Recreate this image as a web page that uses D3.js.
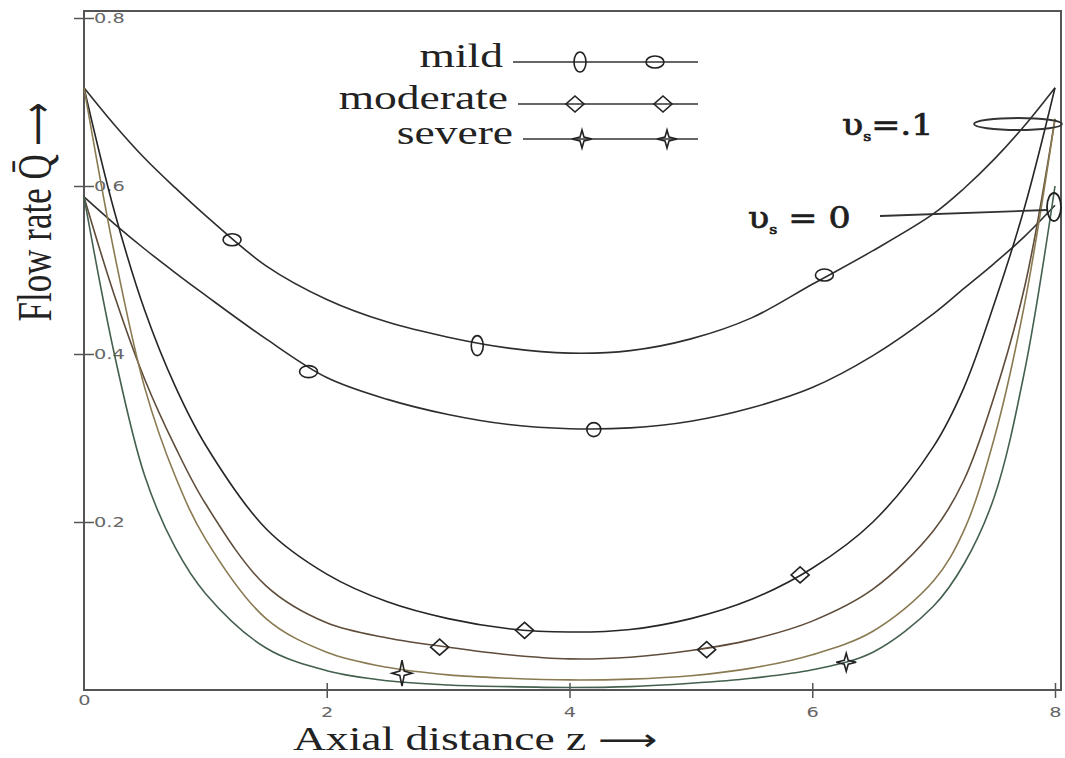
<!DOCTYPE html>
<html>
<head>
<meta charset="utf-8">
<script src="https://cdn.jsdelivr.net/npm/d3@7"></script>
<style>
  body { margin: 0; background: #fff; }
  svg { display: block; }
</style>
</head>
<body>
<svg id="chart" width="1065" height="758"></svg>
<script>
// axial positions shared by all curves
const zVals = [0, 0.25, 0.5, 0.75, 1, 1.5, 2, 2.5, 3, 3.5, 4, 4.5, 5, 5.5, 6, 6.5, 7, 7.25, 7.5, 7.75, 8]

// flow rate
const mildSlip = [0.717, 0.673, 0.633, 0.598, 0.565, 0.505, 0.465, 0.438, 0.42, 0.407, 0.401, 0.404, 0.418, 0.443, 0.483, 0.523, 0.567, 0.597, 0.632, 0.672, 0.717]
const mildNoSlip = [0.587, 0.555, 0.525, 0.497, 0.47, 0.418, 0.372, 0.346, 0.328, 0.316, 0.311, 0.312, 0.32, 0.336, 0.36, 0.398, 0.448, 0.478, 0.508, 0.54, 0.577]
const moderateSlip = [0.717, 0.57, 0.452, 0.362, 0.292, 0.192, 0.138, 0.105, 0.085, 0.073, 0.069, 0.072, 0.085, 0.108, 0.145, 0.2, 0.29, 0.36, 0.46, 0.575, 0.717]
const moderateNoSlip = [0.587, 0.47, 0.37, 0.29, 0.222, 0.124, 0.08, 0.062, 0.051, 0.042, 0.037, 0.039, 0.047, 0.06, 0.082, 0.12, 0.19, 0.25, 0.35, 0.48, 0.68]
const severeSlip = [0.717, 0.52, 0.36, 0.255, 0.18, 0.085, 0.045, 0.027, 0.018, 0.014, 0.012, 0.013, 0.017, 0.026, 0.042, 0.07, 0.13, 0.19, 0.3, 0.46, 0.68]
const severeNoSlip = [0.587, 0.4, 0.255, 0.17, 0.115, 0.05, 0.023, 0.011, 0.006, 0.004, 0.003, 0.004, 0.008, 0.014, 0.024, 0.045, 0.1, 0.15, 0.23, 0.38, 0.6]

const seriesList = [mildSlip, mildNoSlip, moderateSlip, moderateNoSlip, severeSlip, severeNoSlip]
const seriesColors = ['#2e2e2e', '#2e2e2e', '#262626', '#5f4c3a', '#8a7a52', '#44604f']

// markers sitting on the curves
const markerZ = [1.22, 3.24, 6.1, 1.85, 4.2, 3.63, 5.9, 2.93, 5.13, 2.62, 6.28]
const markerQ = [0.536, 0.41, 0.494, 0.379, 0.31, 0.071, 0.137, 0.051, 0.048, 0.02, 0.033]
const markerKind = ['hEllipse', 'vEllipse', 'hEllipse', 'hEllipse', 'round', 'diamond', 'diamond', 'diamond', 'diamond', 'bigStar', 'star']

const legendLabels = ['mild', 'moderate', 'severe']
const legendKinds = [['vEllipse', 'hEllipse'], ['diamond', 'diamond'], ['star', 'star']]

const xTickValues = [0, 2, 4, 6, 8]
const yTickValues = [0.2, 0.4, 0.6, 0.8]

const SX = 1.38 // the picture is stretched sideways
const svg = d3.select('#chart')

const x = d3.scaleLinear().domain([0, 8]).range([84, 1055])
const y = d3.scaleLinear().domain([0, 0.8]).range([690, 18])

// frame
svg.append('rect')
  .attr('x', 84).attr('y', 11)
  .attr('width', 1061 - 84).attr('height', 690 - 11)
  .attr('fill', 'none').attr('stroke', '#555').attr('stroke-width', 2)

// y axis, ticks crossing the frame, labels inside
let yAxis = svg.append('g')
  .attr('transform', 'translate(84,0)')
  .call(d3.axisRight(y).tickValues(yTickValues).tickSize(10).tickPadding(2).tickFormat(d3.format('.1f')))
yAxis.select('.domain').remove()
yAxis.selectAll('line').attr('x1', -10).attr('stroke', '#555').attr('stroke-width', 1.5)
yAxis.selectAll('text')
  .attr('x', 0).attr('dy', '0.35em')
  .attr('transform', `translate(10,0) scale(${SX},1)`)
  .attr('fill', '#666').style('font', '14px "DejaVu Sans"')

let xAxis = svg.append('g')
  .attr('transform', 'translate(0,690)')
  .call(d3.axisBottom(x).tickValues(xTickValues).tickSize(8).tickPadding(9).tickFormat(d3.format('d')))
xAxis.select('.domain').remove()
xAxis.selectAll('line').attr('y1', -7).attr('stroke', '#555').attr('stroke-width', 1.5)
xAxis.selectAll('.tick').filter(d => d === 0).select('line').remove()
xAxis.selectAll('.tick').filter(d => d === 0).select('text').attr('y', 5)
xAxis.selectAll('text')
  .attr('x', 0)
  .attr('transform', `scale(${SX},1)`)
  .attr('fill', '#666').style('font', '14px "DejaVu Sans"')

// axis titles
let xTitle = svg.append('text')
  .attr('transform', `translate(293,750) scale(${SX},1)`)
  .style('font', '33px "Liberation Serif"').attr('fill', '#222')
xTitle.append('tspan').text('Axial distance z ')
xTitle.append('tspan').style('font', '30px "DejaVu Sans"').text('\u27f6')

let yTitle = svg.append('text')
  .attr('transform', `translate(51,212) scale(${SX},1) rotate(-90)`)
  .attr('text-anchor', 'middle')
  .style('font', '35px "Liberation Serif"').attr('fill', '#222')
yTitle.append('tspan').text('Flow rate Q\u0304 ')
yTitle.append('tspan').style('font', '30px "DejaVu Sans"').text('\u27f6')

// curves
let line = d3.line()
  .x((d, i) => x(zVals[i]))
  .y(d => y(d))
  .curve(d3.curveCatmullRom.alpha(0.5))

svg.append('g')
  .selectAll('path')
  .data(seriesList)
  .enter()
  .append('path')
  .attr('d', d => line(d))
  .attr('fill', 'none')
  .attr('stroke', (d, i) => seriesColors[i])
  .attr('stroke-width', 1.6)

function starPath(w, h) {
  let k = Math.min(w, h) * 0.22
  return `M0,${-h}L${k},${-k}L${w},0L${k},${k}L0,${h}L${-k},${k}L${-w},0L${-k},${-k}Z`
}

function drawMarker(g, kind) {
  if (kind === 'hEllipse') g.append('ellipse').attr('rx', 9).attr('ry', 6)
  else if (kind === 'vEllipse') g.append('ellipse').attr('rx', 6).attr('ry', 10)
  else if (kind === 'round') g.append('ellipse').attr('rx', 7).attr('ry', 7)
  else if (kind === 'diamond') g.append('path').attr('d', 'M0,-8L9,0L0,8L-9,0Z')
  else if (kind === 'star') g.append('path').attr('d', starPath(10, 9))
  else if (kind === 'bigStar') g.append('path').attr('d', starPath(10, 13))
  g.selectAll('ellipse,path')
    .attr('fill', 'none').attr('stroke', '#222').attr('stroke-width', 1.6)
}

markerZ.forEach((z, i) => {
  let g = svg.append('g').attr('transform', `translate(${x(z)},${y(markerQ[i])})`)
  drawMarker(g, markerKind[i])
})

// legend
let legendY = [62, 104, 139]
let legendMarkerX = [[580, 655], [575, 663], [582, 667]]
let legendLineStart = [513, 518, 523]
legendLabels.forEach((label, i) => {
  svg.append('text')
    .attr('transform', `translate(${legendLineStart[i] - 10},${legendY[i] + 5}) scale(${SX},1)`)
    .attr('text-anchor', 'end')
    .style('font', '33px "Liberation Serif"').attr('fill', '#222')
    .text(label)
  svg.append('line')
    .attr('x1', legendLineStart[i]).attr('x2', 698)
    .attr('y1', legendY[i]).attr('y2', legendY[i])
    .attr('stroke', '#333').attr('stroke-width', 1.6)
  legendKinds[i].forEach((kind, j) => {
    let g = svg.append('g').attr('transform', `translate(${legendMarkerX[i][j]},${legendY[i]})`)
    drawMarker(g, kind)
  })
})

// slip callouts
function slipLabel(tx, ty, rest) {
  let t = svg.append('text')
    .attr('transform', `translate(${tx},${ty}) scale(1.2,1)`)
    .style('font', '29px "DejaVu Serif"').attr('fill', '#1e1e1e')
    .attr('stroke', '#1e1e1e').attr('stroke-width', 0.7)
  t.append('tspan').text('\u03c5')
  t.append('tspan').attr('dy', 6).style('font-size', '13px').text('s')
  t.append('tspan').attr('dy', -6).text(rest)
}
slipLabel(842, 135, '=.1')
svg.append('ellipse')
  .attr('cx', 1018).attr('cy', 124).attr('rx', 44).attr('ry', 6)
  .attr('fill', 'none').attr('stroke', '#333').attr('stroke-width', 1.8)

slipLabel(748, 228, ' = 0')
svg.append('line')
  .attr('x1', 880).attr('y1', 216).attr('x2', 1047).attr('y2', 210)
  .attr('stroke', '#333').attr('stroke-width', 1.8)
svg.append('ellipse')
  .attr('cx', 1054).attr('cy', 207).attr('rx', 7).attr('ry', 14)
  .attr('fill', 'none').attr('stroke', '#222').attr('stroke-width', 1.8)
</script>
</body>
</html>
